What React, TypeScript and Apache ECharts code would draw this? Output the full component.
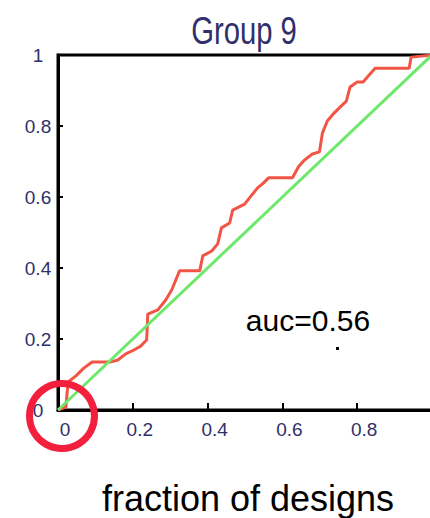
import React, { useEffect, useRef } from "react";
import * as echarts from "echarts";

const titleText = "Group 9";
const xAxisName = "fraction of designs";
const aucLabel = "auc=0.56";

// ROC curve (fraction of hits vs fraction of designs)
const rocX = [0, 0.021, 0.027, 0.048, 0.069, 0.091, 0.139, 0.16, 0.181, 0.203, 0.221, 0.237, 0.24, 0.267, 0.288, 0.304, 0.325, 0.379, 0.387, 0.411, 0.427, 0.437, 0.459, 0.467, 0.499, 0.52, 0.533, 0.549, 0.563, 0.627, 0.643, 0.659, 0.68, 0.699, 0.707, 0.72, 0.736, 0.755, 0.771, 0.781, 0.8, 0.816, 0.832, 0.848, 0.939, 0.944, 1.0];
const rocY = [0, 0.008, 0.079, 0.096, 0.118, 0.135, 0.135, 0.141, 0.158, 0.169, 0.18, 0.197, 0.27, 0.282, 0.31, 0.338, 0.392, 0.392, 0.434, 0.448, 0.468, 0.513, 0.527, 0.563, 0.58, 0.608, 0.625, 0.639, 0.654, 0.654, 0.685, 0.704, 0.721, 0.727, 0.78, 0.814, 0.834, 0.854, 0.87, 0.91, 0.924, 0.924, 0.944, 0.963, 0.963, 0.994, 1.0];
// random-selection diagonal
const diagX = [0, 1];
const diagY = [0, 1];

const labelFont = "'Liberation Sans', Arial, sans-serif";
const labelColor = "#30306a";

function fmt(v: number) {
  return v === 0 ? "0" : v === 1 ? "1" : String(Math.round(v * 10) / 10);
}

export default function App() {
  const ref = useRef<HTMLDivElement>(null);
  useEffect(() => {
    if (!ref.current) return;
    const chart = echarts.init(ref.current, undefined, { renderer: "svg" });
    chart.setOption({
      animation: false,
      backgroundColor: "#ffffff",
      grid: {
        left: 58,
        top: 55,
        right: -2,
        bottom: 108,
        containLabel: false,
        outerBoundsMode: "none",
        show: true,
        borderColor: "#000",
        borderWidth: 3,
        backgroundColor: "transparent",
      },
      xAxis: {
        type: "value",
        min: 0,
        max: 1,
        interval: 0.2,
        splitLine: { show: false },
        axisLine: { show: true, lineStyle: { color: "#000", width: 3 } },
        axisTick: { show: true, inside: true, length: 7, lineStyle: { color: "#000", width: 2 } },
        axisLabel: {
          margin: 10,
          fontSize: 19,
          fontFamily: labelFont,
          color: labelColor,
          padding: [0, 0, 0, 14],
          showMaxLabel: false,
          formatter: (v: number) => fmt(v),
        },
      },
      yAxis: {
        type: "value",
        min: 0,
        max: 1,
        interval: 0.2,
        splitLine: { show: false },
        axisLine: { show: true, lineStyle: { color: "#000", width: 3 } },
        axisTick: { show: true, inside: true, length: 5, lineStyle: { color: "#000", width: 2 } },
        axisLabel: {
          margin: 20,
          align: "center",
          fontSize: 19,
          fontFamily: labelFont,
          color: labelColor,
          padding: [0, 0, 12, 0],
          formatter: (v: number) => fmt(v),
        },
      },
      series: [
        {
          type: "line",
          data: rocX.map((x, i) => [x, rocY[i]]),
          symbol: "none",
          lineStyle: { color: "#f25545", width: 3 },
          z: 2,
        },
        {
          type: "line",
          data: diagX.map((x, i) => [x, diagY[i]]),
          symbol: "none",
          lineStyle: { color: "#6ee86a", width: 3 },
          z: 3,
        },
      ],
      graphic: [
        {
          type: "text",
          x: 244,
          y: 31,
          scaleX: 0.86,
          scaleY: 1.12,
          style: {
            text: titleText,
            font: "34px " + labelFont,
            fill: labelColor,
            align: "center",
            verticalAlign: "middle",
          },
        },
        {
          type: "text",
          x: 308,
          y: 320,
          style: {
            text: aucLabel,
            font: "30px 'Liberation Sans', Arial, sans-serif",
            fill: "#000",
            align: "center",
            verticalAlign: "middle",
          },
        },
        {
          type: "rect",
          shape: { x: 336, y: 347, width: 3, height: 3 },
          style: { fill: "#000" },
        },
        {
          type: "text",
          x: 248,
          y: 498,
          style: {
            text: xAxisName,
            font: "36px 'Liberation Sans', Arial, sans-serif",
            fill: "#000",
            align: "center",
            verticalAlign: "middle",
          },
        },
        {
          type: "circle",
          shape: { cx: 62, cy: 416, r: 32.5 },
          style: { fill: "none", stroke: "#f2203c", lineWidth: 7 },
          z: 100,
        },
      ],
    });
    return () => chart.dispose();
  }, []);
  return (
    <div
      ref={ref}
      style={{ position: "fixed", left: 0, top: 0, width: 430, height: 518, background: "#fff" }}
    />
  );
}
